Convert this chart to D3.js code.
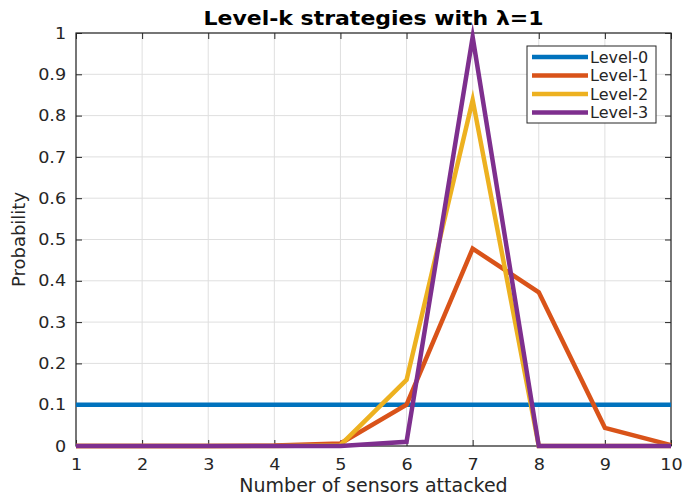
<!DOCTYPE html>
<html lang="en">
	<head>
		<meta charset="utf-8">
		<title>Level-k strategies</title>
		<script type="text/javascript" src="https://cdn.jsdelivr.net/npm/d3@7"></script>
		<style type="text/css">
			body { margin: 0; background: #fff; }
			text { font-family: "DejaVu Sans", sans-serif; fill: #262626; }
		</style>
	</head>
	<body>
		<script type="text/javascript">

			//Data
			var sensors = [1, 2, 3, 4, 5, 6, 7, 8, 9, 10];
			var seriesNames = ["Level-0", "Level-1", "Level-2", "Level-3"];
			var level0 = [0.1, 0.1, 0.1, 0.1, 0.1, 0.1, 0.1, 0.1, 0.1, 0.1];
			var level1 = [0, 0, 0, 0.001, 0.006, 0.1, 0.478, 0.372, 0.044, 0.002];
			var level2 = [0, 0, 0, 0, 0.002, 0.16, 0.838, 0, 0, 0];
			var level3 = [0, 0, 0, 0, 0, 0.01, 0.99, 0, 0, 0];
			var yTicks = [0, 0.1, 0.2, 0.3, 0.4, 0.5, 0.6, 0.7, 0.8, 0.9, 1];
			var colors = ["#0072BD", "#D95319", "#EDB120", "#7E2F8E"];

			var w = 683;
			var h = 495;
			var margin = { top: 33, right: 12, bottom: 49, left: 76 };
			var pw = w - margin.left - margin.right;
			var ph = h - margin.top - margin.bottom;

			var series = [level0, level1, level2, level3];

			var xScale = d3.scaleLinear()
							.domain([1, 10])
							.range([0, pw]);

			var yScale = d3.scaleLinear()
							.domain([0, 1])
							.range([ph, 0]);

			var svg = d3.select("body")
						.append("svg")
						.attr("width", w)
						.attr("height", h);

			var g = svg.append("g")
						.attr("transform", "translate(" + margin.left + "," + margin.top + ")");

			//Grid lines
			g.append("g")
			 .selectAll("line.vg")
			 .data(sensors)
			 .enter()
			 .append("line")
			 .attr("x1", function(d) { return xScale(d); })
			 .attr("x2", function(d) { return xScale(d); })
			 .attr("y1", 0)
			 .attr("y2", ph)
			 .attr("stroke", "#dfdfdf")
			 .attr("stroke-width", 1);

			g.append("g")
			 .selectAll("line.hg")
			 .data(yTicks)
			 .enter()
			 .append("line")
			 .attr("y1", function(d) { return yScale(d); })
			 .attr("y2", function(d) { return yScale(d); })
			 .attr("x1", 0)
			 .attr("x2", pw)
			 .attr("stroke", "#dfdfdf")
			 .attr("stroke-width", 1);

			//Axes, ticks pointing inward like MATLAB
			var axisColor = "#262626";
			function styleAxis(sel) {
				sel.select(".domain").remove();
				sel.selectAll(".tick line").attr("stroke", axisColor);
				sel.selectAll(".tick text")
				   .attr("font-size", "16px")
				   .attr("fill", axisColor)
				   .attr("transform", "scale(1.1,1)")
				   .style("font-family", "'DejaVu Sans', sans-serif");
			}

			var xAxis = d3.axisBottom(xScale)
							.tickValues(sensors)
							.tickSizeInner(-6)
							.tickSizeOuter(0)
							.tickPadding(13)
							.tickFormat(d3.format("d"));

			g.append("g")
			 .attr("transform", "translate(0," + ph + ")")
			 .call(xAxis)
			 .call(styleAxis);

			var yAxis = d3.axisLeft(yScale)
							.tickValues(yTicks)
							.tickSizeInner(-6)
							.tickSizeOuter(0)
							.tickPadding(9)
							.tickFormat(function(d) { return d3.format("")(+d.toFixed(1)); });

			g.append("g")
			 .call(yAxis)
			 .call(styleAxis);

			//Top and right ticks without labels
			g.append("g")
			 .call(d3.axisTop(xScale).tickValues(sensors).tickSizeInner(-6).tickSizeOuter(0).tickFormat(""))
			 .call(styleAxis);

			g.append("g")
			 .attr("transform", "translate(" + pw + ",0)")
			 .call(d3.axisRight(yScale).tickValues(yTicks).tickSizeInner(-6).tickSizeOuter(0).tickFormat(""))
			 .call(styleAxis);

			//Box
			g.append("rect")
			 .attr("x", 0)
			 .attr("y", 0)
			 .attr("width", pw)
			 .attr("height", ph)
			 .attr("fill", "none")
			 .attr("stroke", axisColor)
			 .attr("stroke-width", 1.2);

			//Lines
			var line = d3.line()
						.x(function(d, i) { return xScale(sensors[i]); })
						.y(function(d) { return yScale(d); });

			g.selectAll("path.series")
			 .data(series)
			 .enter()
			 .append("path")
			 .attr("class", "series")
			 .attr("d", line)
			 .attr("fill", "none")
			 .attr("stroke", function(d, i) { return colors[i]; })
			 .attr("stroke-width", 4.5)
			 .attr("stroke-linejoin", "miter")
			 .attr("stroke-miterlimit", 10);

			//Legend
			var legend = svg.append("g")
							.attr("transform", "translate(527,46)");

			legend.append("rect")
				  .attr("width", 129)
				  .attr("height", 77)
				  .attr("fill", "#fff")
				  .attr("stroke", axisColor)
				  .attr("stroke-width", 1);

			var items = legend.selectAll("g.item")
							  .data(seriesNames)
							  .enter()
							  .append("g")
							  .attr("transform", function(d, i) { return "translate(0," + (11 + i * 18.5) + ")"; });

			items.append("line")
				 .attr("x1", 5)
				 .attr("x2", 61)
				 .attr("stroke", function(d, i) { return colors[i]; })
				 .attr("stroke-width", 4.5);

			items.append("text")
				 .attr("x", 63)
				 .attr("dy", "0.35em")
				 .attr("font-size", "16px")
				 .text(function(d) { return d; });

			//Title and axis labels
			svg.append("text")
			   .attr("transform", "translate(" + (margin.left + pw / 2) + ",25) scale(1.1,1)")
			   .attr("text-anchor", "middle")
			   .attr("font-size", "20px")
			   .attr("font-weight", "bold")
			   .style("fill", "#000")
			   .text("Level-k strategies with λ=1");

			svg.append("text")
			   .attr("x", margin.left + pw / 2)
			   .attr("y", 492)
			   .attr("text-anchor", "middle")
			   .attr("font-size", "19px")
			   .text("Number of sensors attacked");

			svg.append("text")
			   .attr("transform", "translate(25," + (margin.top + ph / 2) + ") rotate(-90)")
			   .attr("text-anchor", "middle")
			   .attr("font-size", "18px")
			   .text("Probability");

		</script>
	</body>
</html>
